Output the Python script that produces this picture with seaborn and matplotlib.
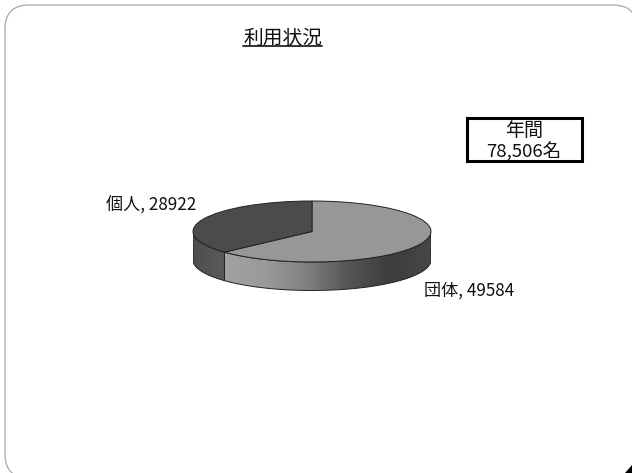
import numpy as np
import matplotlib
matplotlib.use("Agg")
import matplotlib.pyplot as plt
from matplotlib.colors import LinearSegmentedColormap
from matplotlib.patches import FancyBboxPatch, Polygon, Rectangle
import seaborn as sns

categories = ["団体", "個人"]
values = [49584, 28922]
title_text = "利用状況"
total_lines = ["年間", "78,506名"]

top_colors = ["#979797", "#4b4b4b"]
wall_stops_main = ["#a2a2a2", "#9a9a9a", "#808080", "#555555", "#3c3c3c", "#474747"]
wall_stops_other = ["#4e4e4e", "#5a5a5a"]

sns.set_theme(style="white")
plt.rcParams["font.family"] = ["Noto Sans CJK JP", "DejaVu Sans"]

W, H = 632, 473
fig = plt.figure(figsize=(W / 100, H / 100), dpi=100, facecolor="white")

# Page layer in pixel coordinates: rounded frame, corner mark, caption, total box
page = fig.add_axes([0, 0, 1, 1], zorder=0)
page.set_xlim(0, W)
page.set_ylim(H, 0)
page.axis("off")
page.add_patch(FancyBboxPatch((29, 29), 584, 425,
                              boxstyle="round,pad=24,rounding_size=24",
                              fc="white", ec="#b0b0b0", lw=1.0))
page.add_patch(Polygon([(625, 473), (632, 465), (632, 473)], fc="black", ec="none"))
page.text(282.5, 38, title_text, ha="center", va="center", fontsize=14.2, color="#111111")
page.plot([243, 322], [46.5, 46.5], color="#111111", lw=1.2)
page.add_patch(Rectangle((466.5, 117.5), 115.5, 43, fc="white", ec="black", lw=2.2))
page.text(524, 130.5, total_lines[0], ha="center", va="center", fontsize=13.7, color="#111111")
page.text(524, 151.5, total_lines[1], ha="center", va="center", fontsize=13.4, color="#111111")

# Pie layer: one unit across equals the ellipse radius on each axis
cx, cy, rx, ry, depth = 312, 231.5, 119, 30.5, 28.5
left, right = cx - rx, cx + rx
top, bottom = cy - ry, cy + ry + depth
ax = fig.add_axes([left / W, 1 - bottom / H, (right - left) / W, (bottom - top) / H], zorder=1)
ax.patch.set_alpha(0)

wedges, _ = ax.pie(values, startangle=90, counterclock=False, colors=top_colors,
                   radius=1, center=(0, 0), normalize=True,
                   wedgeprops={"edgecolor": "#222222", "linewidth": 0.7, "zorder": 3})
ax.set_aspect("auto")
ylim = (-1 - depth / ry, 1)
d = depth / ry

# Side wall below the front rim, split at the slice boundary
split = np.deg2rad(90 - 360 * values[0] / sum(values)) % (2 * np.pi)


def wall_outline(a0, a1):
    t = np.linspace(a0, a1, 120)
    upper = np.column_stack([np.cos(t), np.sin(t)])
    lower = upper[::-1] - [0, d]
    return np.vstack([upper, lower])


for stops, a0, a1 in [(wall_stops_other, np.pi, split), (wall_stops_main, split, 2 * np.pi)]:
    cmap = LinearSegmentedColormap.from_list("wall", stops)
    xs = wall_outline(a0, a1)[:, 0]
    grad = np.linspace(0, 1, 256)[None, :]
    outline = Polygon(wall_outline(a0, a1), closed=True, fc="none",
                      ec="#222222", lw=0.7, zorder=2.5)
    ax.add_patch(outline)
    im = ax.imshow(grad, cmap=cmap, extent=(xs.min(), xs.max(), ylim[0], 1),
                   aspect="auto", zorder=2, interpolation="bilinear")
    im.set_clip_path(outline)

ax.set_xlim(-1, 1)
ax.set_ylim(*ylim)
for w in wedges:
    w.set_clip_on(False)
ax.axis("off")

# Slice labels
page.text(151.5, 205.5, f"{categories[1]}, {values[1]}", ha="center", va="center",
          fontsize=12.3, color="#111111", zorder=5)
page.text(469.5, 290.5, f"{categories[0]}, {values[0]}", ha="center", va="center",
          fontsize=12.3, color="#111111", zorder=5)

fig.savefig("out.png", dpi=100, facecolor="white")
